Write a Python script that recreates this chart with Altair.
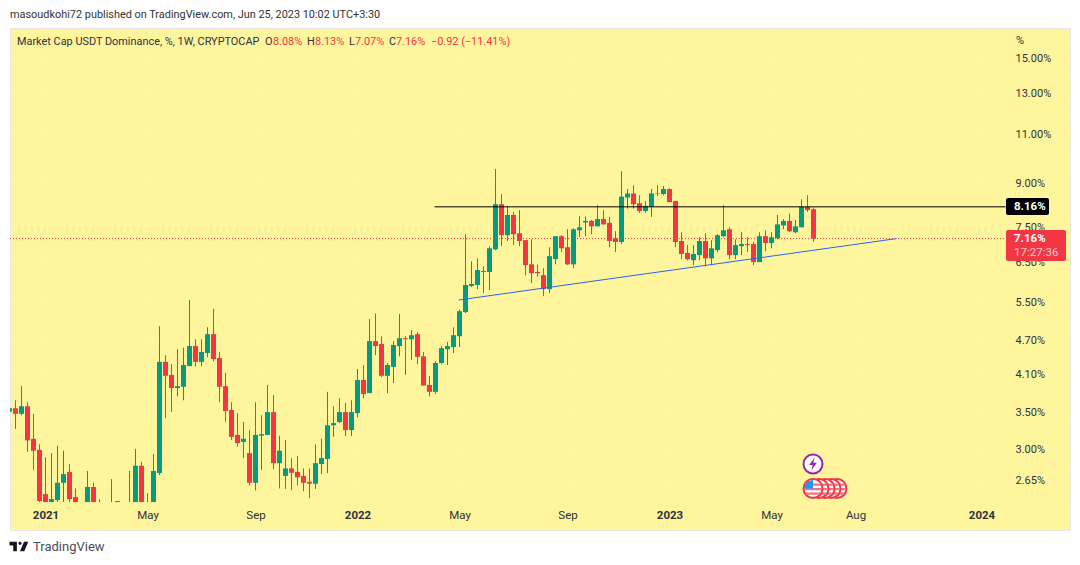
import altair as alt
import pandas as pd

FONT = "Roboto"
GREEN = "#089981"
RED = "#F23645"
YELLOW = "#FFF59D"
INK = "#2f323c"

opens = [3.51,3.56,3.48,3.59,3.14,3.00,2.50,2.42,2.44,2.62,
         2.74,2.47,None,2.42,2.575,2.421,None,2.42,2.43,None,
         2.42,2.42,2.81,2.421,2.42,2.727,4.31,4.085,3.87,3.89,
         4.235,4.60,4.31,4.47,4.83,4.38,3.90,3.535,3.19,3.10,
         2.96,2.62,3.18,3.19,3.505,2.84,2.695,2.78,2.74,2.695,
         2.63,2.61,2.83,2.89,3.32,3.365,3.505,3.255,3.49,4.00,
         3.79,4.695,4.64,4.07,4.22,4.60,4.75,4.73,4.83,4.41,
         3.92,3.81,4.29,4.54,4.58,4.79,5.29,5.89,5.915,6.265,
         6.24,6.85,8.25,7.26,7.89,7.32,7.115,6.44,6.24,6.16,
         5.815,6.58,7.23,6.91,6.44,7.41,7.65,7.70,7.53,7.76,
         7.64,7.17,7.06,8.48,8.62,8.28,8.02,8.16,8.62,8.60,
         8.78,8.36,7.09,6.75,6.55,6.69,7.09,6.60,6.83,7.23,
         7.44,6.69,6.94,7.00,7.00,6.50,7.23,7.03,7.17,7.56,
         7.70,7.35,7.50,8.16,8.08]
highs = [3.56,3.68,3.90,3.65,3.48,3.07,2.91,2.96,3.05,2.99,
         2.83,2.56,None,2.75,2.62,2.45,None,2.66,2.43,None,
         2.75,3.01,2.855,2.51,2.95,4.99,4.43,4.27,4.54,4.57,
         5.56,4.73,4.73,4.97,5.36,4.49,4.12,3.65,3.49,3.365,
         3.255,3.65,3.46,3.92,3.76,3.18,3.124,2.90,2.925,2.78,
         2.78,3.07,3.14,3.81,3.59,3.71,3.64,3.68,4.185,4.255,
         5.14,5.26,4.79,4.29,4.695,5.25,4.79,4.91,4.87,4.49,
         4.07,4.32,4.60,4.68,4.97,5.35,7.29,6.52,6.60,6.39,
         6.94,9.53,8.60,8.19,7.99,8.05,7.115,7.14,6.44,6.34,
         6.91,7.23,7.26,7.44,7.47,7.85,7.85,7.73,8.22,8.05,
         7.83,7.38,9.45,8.78,8.92,8.56,8.35,8.78,8.92,8.89,
         8.81,8.36,7.35,6.97,6.97,7.20,7.32,7.115,7.29,8.22,
         7.50,7.14,7.35,7.20,7.06,7.35,7.41,7.35,7.89,7.76,
         7.94,7.73,8.42,8.56,8.13]
lows = [3.51,3.27,3.46,2.975,2.76,2.42,2.42,2.42,2.42,2.42,
        2.42,2.42,None,2.42,2.42,2.42,None,2.42,2.42,None,
        2.42,2.42,2.42,2.42,2.42,2.705,3.42,3.505,3.74,3.68,
        4.235,4.225,4.235,4.39,4.32,3.65,3.365,3.124,3.04,2.90,
        2.59,2.54,2.76,3.19,2.77,2.56,2.555,2.54,2.59,2.53,
        2.46,2.555,2.715,2.727,3.165,3.35,3.175,3.175,3.43,3.71,
        3.79,4.43,4.05,3.79,3.95,4.41,4.085,4.34,4.27,3.91,
        3.74,3.775,4.27,4.255,4.47,4.58,5.27,5.865,5.815,5.725,
        5.79,6.83,6.94,7.09,6.97,6.94,6.15,5.96,6.12,5.65,
        5.72,6.44,6.77,6.42,6.34,7.21,7.23,7.29,7.53,7.59,
        6.91,6.77,7.00,8.10,8.10,7.96,7.96,7.83,8.53,8.56,
        8.32,6.91,6.58,6.55,6.42,6.55,6.39,6.42,6.77,7.20,
        6.58,6.58,6.69,6.77,6.42,6.50,6.80,6.88,7.14,7.44,
        7.35,7.32,7.50,7.99,7.07]
closes = [3.56,3.48,3.59,3.12,2.99,2.43,2.42,2.45,2.62,2.715,
          2.45,2.42,None,2.575,2.42,2.42,None,2.42,2.42,None,
          2.42,2.81,2.42,2.42,2.75,4.31,4.07,3.87,3.90,4.255,
          4.60,4.31,4.49,4.83,4.36,3.89,3.52,3.165,3.085,3.14,
          2.62,3.19,3.20,3.505,2.84,2.99,2.78,2.73,2.68,2.62,
          2.61,2.84,2.90,3.32,3.35,3.505,3.255,3.505,4.00,3.775,
          4.695,4.60,4.07,4.255,4.62,4.75,4.73,4.81,4.40,3.91,
          3.81,4.29,4.56,4.60,4.81,5.31,5.915,5.94,6.29,6.24,
          6.88,8.25,7.26,7.89,7.29,7.09,6.42,6.21,6.21,5.815,
          6.66,7.23,6.88,6.44,7.44,7.50,7.70,7.53,7.76,7.59,
          7.09,7.06,8.51,8.62,8.25,8.02,8.19,8.62,8.60,8.78,
          8.32,7.06,6.72,6.58,6.72,7.09,6.60,6.88,7.26,7.41,
          6.69,6.97,7.00,6.97,6.50,7.23,7.03,7.20,7.59,7.70,
          7.38,7.53,8.16,8.05,7.16]

x_domain = ["2020-11-23T14:00:00", "2024-04-13T06:00:00"]
y_domain = [2.157, 17.04]
price_ticks = [2.65, 3.00, 3.50, 4.10, 4.70, 5.50, 6.50, 7.50, 9.00, 11.00, 13.00, 15.00]
time_ticks = ["2021-01-04", "2021-05-03", "2021-09-06", "2022-01-03", "2022-05-02", "2022-09-05",
              "2023-01-02", "2023-05-01", "2023-08-07", "2024-01-01"]
resistance = 8.16
last_close = 7.16
trend_dates = ["2022-05-01T00:00:00", "2023-09-24T00:00:00"]
trend_prices = [5.56, 7.16]
level_start = "2022-04-03T00:00:00"
level_end = "2024-01-29T00:00:00"

weeks = pd.date_range(end="2023-06-19", periods=len(opens), freq="7D").strftime("%Y-%m-%dT00:00:00")
df = pd.DataFrame({"week": weeks, "open": opens, "high": highs, "low": lows, "close": closes}).dropna()
df["colour"] = [GREEN if c >= o else RED for o, c in zip(df["open"], df["close"])]

x_enc = alt.X("week:T", title=None, scale=alt.Scale(domain=x_domain, nice=False, padding=0),
              axis=alt.Axis(values=[t + "T00:00:00" for t in time_ticks],
                            labelExpr="month(datum.value) == 0 ? timeFormat(datum.value, '%Y') : timeFormat(datum.value, '%b')",
                            labelFontWeight={"condition": {"test": "month(datum.value) == 0", "value": "bold"}, "value": "normal"},
                            labelFontSize=11.5, labelFont=FONT, labelColor=INK, labelOverlap=False,
                            labelPadding=0, tickSize=0, domain=False, offset=-21, grid=True,
                            gridColor="#FFF6A6", gridWidth=1))
y_scale = alt.Scale(type="log", domain=y_domain, nice=False, zero=False)
y_enc = alt.Y("low:Q", title=None, scale=y_scale,
              axis=alt.Axis(orient="right", values=price_ticks, offset=-55, tickSize=0, domain=False,
                            labelExpr="format(datum.value, '.2f') + '%'", labelFont=FONT, labelFontSize=11,
                            labelColor=INK, labelPadding=0, labelOverlap=False, labelBound=False,
                            grid=True, gridColor="#FFF6A6", gridWidth=1))

colour = alt.Color("colour:N", scale=None, legend=None)
base = alt.Chart(df)

last_line = alt.Chart(pd.DataFrame({"a": [x_domain[0]], "b": [level_end], "p": [last_close]})).mark_rule(
    color=RED, strokeWidth=1, strokeDash=[1, 2]).encode(x="a:T", x2="b:T", y=alt.Y("p:Q", scale=y_scale))
wicks = base.mark_rule(strokeWidth=1, clip=True).encode(x=x_enc, y=y_enc, y2="high:Q", color=colour)
bodies = base.mark_bar(size=5, clip=True).encode(
    x="week:T", y=alt.Y("open:Q", scale=y_scale), y2="close:Q", color=colour)
level = alt.Chart(pd.DataFrame({"a": [level_start], "b": [level_end], "p": [resistance]})).mark_rule(
    color="#000000", strokeWidth=1).encode(x="a:T", x2="b:T", y=alt.Y("p:Q", scale=y_scale))
trend = alt.Chart(pd.DataFrame({"d": trend_dates, "p": trend_prices})).mark_line(
    color="#2962FF", strokeWidth=1).encode(x="d:T", y=alt.Y("p:Q", scale=y_scale))


one = alt.Data(values=[{"k": 1}])


def text(content, px, py, colour=INK, size=11, weight="normal", align="left", font=FONT, opacity=1):
    return alt.Chart(one).mark_text(text=content, font=font, fontSize=size, fontWeight=weight, align=align,
                                    baseline="middle", color=colour, opacity=opacity).encode(
        x=alt.value(px - 10), y=alt.value(py - 28))


def box(x0, x1, y0, y1, fill):
    return alt.Chart(one).mark_rect(fill=fill, cornerRadius=2).encode(
        x=alt.value(x0 - 10), x2=alt.value(x1 - 10), y=alt.value(y0 - 28), y2=alt.value(y1 - 28))


def sym(shape, px, py, r, fill, stroke=None, sw=0):
    kw = {"stroke": stroke, "strokeWidth": sw} if stroke else {"strokeWidth": 0}
    return alt.Chart(one).mark_point(shape=shape, filled=True, fill=fill, opacity=1, size=(2 * r) ** 2, **kw).encode(
        x=alt.value(px - 10), y=alt.value(py - 28))


STRIPES = ("M-0.9 -0.55L0.9 -0.55L0.88 -0.3L-0.88 -0.3Z M-1 -0.05L1 -0.05L0.97 0.2L-0.97 0.2Z "
           "M-0.88 0.45L0.88 0.45L0.7 0.7L-0.7 0.7Z")
CANTON = "M0 -0.95L0 0L-0.98 0L-0.85 -0.5Q-0.55 -0.9 0 -0.95Z"
BOLT = "M0.25 -1L-0.6 0.15L-0.05 0.15L-0.25 1L0.6 -0.2L0.05 -0.2Z"
LOGO = ("M-0.222 0.444L-0.611 0.444L-0.611 -0.167L-1 -0.167L-1 -0.556L-0.222 -0.556Z "
        "M0.556 0.444L0.111 0.444L0.528 -0.556L0.972 -0.556Z "
        "M-0.056 -0.389A0.167 0.167 0 1 0 0.278 -0.389A0.167 0.167 0 1 0 -0.056 -0.389Z")

icons = [sym("circle", 813, 464, 9.5, "#FFFFFF", "#9C27B0", 2), sym(BOLT, 813, 464, 6.5, "#9C27B0")]
for cx in [837, 831, 825, 819, 813]:
    icons.append(sym("circle", cx, 488.5, 9.5, "#FFFFFF", RED, 2))
    icons.append(sym(STRIPES, cx, 488.5, 9, "#F7727C"))
icons.append(sym(CANTON, 813, 488.5, 9, "#2196F3"))

LEG = 10.9
labels = [
    text("masoudkohi72 published on TradingView.com, Jun 25, 2023 10:02 UTC+3:30", 10, 15, "#333333", LEG),
    text("Market Cap USDT Dominance, %, 1W, CRYPTOCAP", 17, 42, INK, LEG),
    text("O", 265, 42, INK, LEG), text("8.08%", 273, 42, RED, LEG),
    text("H", 307, 42, INK, LEG), text("8.13%", 315, 42, RED, LEG),
    text("L", 349, 42, INK, LEG), text("7.07%", 355, 42, RED, LEG),
    text("C", 389, 42, INK, LEG), text("7.16%", 396, 42, RED, LEG),
    text("\u22120.92 (\u221211.41%)", 431, 42, RED, LEG),
    text("%", 1016, 41, INK, 11),
    box(1006, 1049, 198, 215, "#000000"),
    text("8.16%", 1014, 207, "#FFFFFF", 11.5, "bold"),
    box(1006, 1066, 230, 261, RED),
    text("7.16%", 1014, 239, "#FFFFFF", 11.5, "bold"),
    text("17:27:36", 1014, 253, "#FFFFFF", 11.5, "normal", opacity=0.72),
    sym(LOGO, 19, 547, 9.5, "#131722"),
    text("TradingView", 33, 547, "#4a4e59", 13),
]

chart = alt.layer(wicks, last_line, bodies, trend, level, *icons, *labels).properties(
    width=1060, height=502,
    padding={"left": 2, "top": 20, "right": 2, "bottom": 27},
    autosize=alt.AutoSizeParams(type="none"),
    background="#FFFFFF",
).configure_view(fill=YELLOW, stroke="#E6E6E6")

chart.save("out.html", embed_options={"renderer": "svg", "actions": False})
